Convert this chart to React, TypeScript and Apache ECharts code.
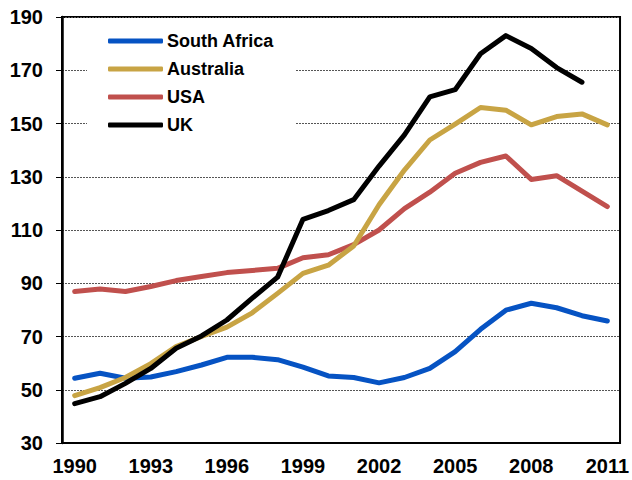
import React, { useEffect, useRef } from "react";
import * as echarts from "echarts";

const years = [
  "1990", "1991", "1992", "1993", "1994", "1995", "1996", "1997", "1998", "1999", "2000",
  "2001", "2002", "2003", "2004", "2005", "2006", "2007", "2008", "2009", "2010", "2011",
];
const southAfrica = [54.3, 56.2, 54.3, 54.8, 56.8, 59.3, 62.2, 62.2, 61.3, 58.5, 55.2, 54.6, 52.6, 54.6, 58, 64.3, 72.7, 79.9, 82.5, 80.8, 77.8, 75.8];
const australia = [47.8, 50.8, 54.6, 59.8, 66.2, 70, 73.5, 78.9, 86.2, 93.7, 96.8, 104, 119.5, 132.5, 143.8, 149.8, 156, 155, 149.5, 152.6, 153.6, 149.5];
const usa = [86.9, 87.8, 86.9, 88.8, 91, 92.5, 94, 94.8, 95.6, 99.6, 100.7, 104.5, 110, 118, 124.2, 131.3, 135.4, 137.8, 129, 130.4, 124.6, 118.8];
const uk = [44.8, 47.4, 52.4, 58, 65.6, 70.2, 76.2, 84.4, 92.3, 114, 117.3, 121.4, 134, 145.7, 160, 162.7, 176.2, 183, 178.2, 171, 165.5, null];
const yTicks = { min: 30, max: 190, interval: 20 };

const FONT = "'Liberation Sans', Arial, sans-serif";

export default function App() {
  const ref = useRef<HTMLDivElement>(null);
  useEffect(() => {
    if (!ref.current) return;
    const chart = echarts.init(ref.current, null, { renderer: "svg" });
    const mk = (name: string, data: (number | null)[], color: string) => ({
      name,
      type: "line",
      data,
      symbol: "none",
      connectNulls: false,
      lineStyle: { color, width: 5, cap: "round", join: "round" },
      itemStyle: { color },
    });
    chart.setOption({
      animation: false,
      backgroundColor: "#ffffff",
      textStyle: { fontFamily: FONT },
      grid: {
        left: 62,
        top: 17,
        right: 10,
        bottom: 37,
        show: true,
        borderColor: "#000",
        borderWidth: 2,
        containLabel: false,
      },
      legend: {
        orient: "vertical",
        left: 87,
        top: 26,
        padding: [5, 22, 8, 21],
        backgroundColor: "#ffffff",
        itemWidth: 55,
        itemHeight: 5,
        itemGap: 8,
        icon: "roundRect",
        textStyle: { fontFamily: FONT, fontSize: 18, fontWeight: "bold", color: "#000", lineHeight: 20, padding: [0, 0, 0, -1] },
        data: ["South Africa", "Australia", "USA", "UK"],
      },
      xAxis: {
        type: "category",
        data: years,
        boundaryGap: true,
        axisLine: { lineStyle: { color: "#000", width: 2 } },
        axisTick: { interval: 2, length: 5, lineStyle: { color: "#000", width: 1 } },
        axisLabel: { interval: 2, fontSize: 20, fontWeight: "bold", color: "#000", margin: 13, fontFamily: FONT },
        splitLine: { show: false },
      },
      yAxis: {
        type: "value",
        min: yTicks.min,
        max: yTicks.max,
        interval: yTicks.interval,
        axisLine: { show: true, lineStyle: { color: "#000", width: 2.5 } },
        axisTick: { show: true, length: 6, lineStyle: { color: "#000", width: 1 } },
        axisLabel: { fontSize: 20, fontWeight: "bold", color: "#000", margin: 19, fontFamily: FONT },
        splitLine: { show: true, lineStyle: { color: "#555", width: 1, type: [2, 1] } },
      },
      series: [
        mk("South Africa", southAfrica, "#0653C3"),
        mk("USA", usa, "#C0504D"),
        mk("Australia", australia, "#C8A444"),
        mk("UK", uk, "#000000"),
      ],
    });
    return () => chart.dispose();
  }, []);
  return (
    <div
      ref={ref}
      style={{ position: "fixed", left: 0, top: 0, width: 632, height: 480 }}
    />
  );
}
